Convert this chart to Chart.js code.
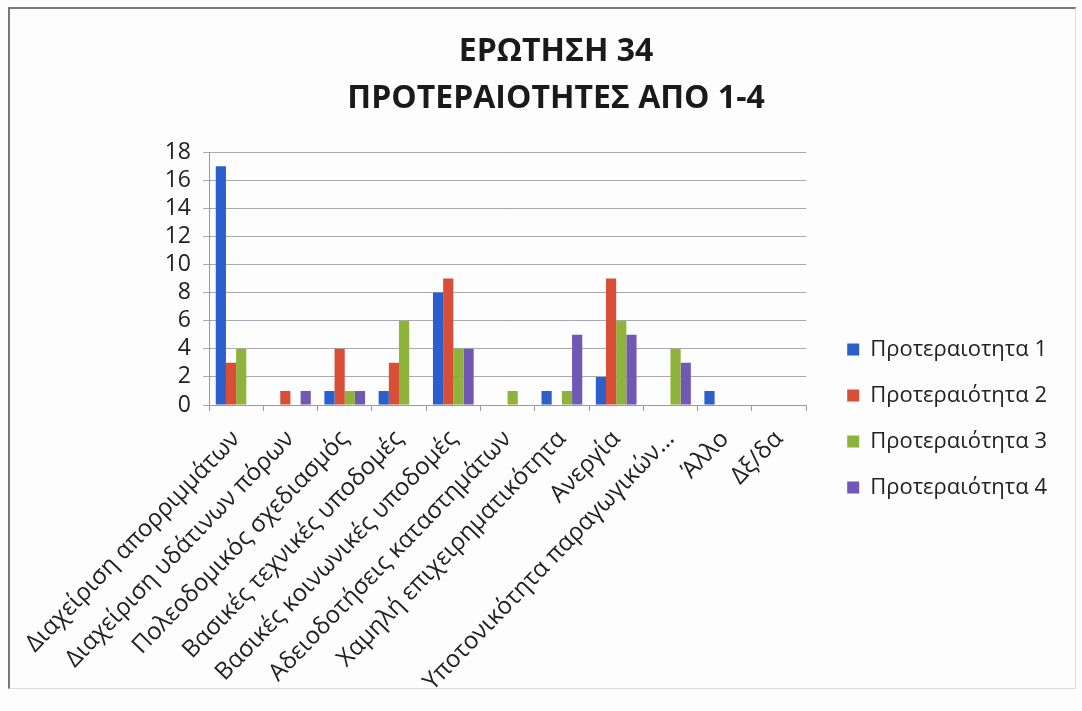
<!DOCTYPE html>
<html>
<head>
<meta charset="utf-8">
<script src="https://cdn.jsdelivr.net/npm/chart.js@4"></script>
<style>
    body { margin: 0; background: #fff; }
    #wrap { position: relative; width: 1082px; height: 711px; background: #fdfdfd; }
    #frame {
        position: absolute; left: 8px; top: 7px; right: 6px; bottom: 22px;
        border-left: 2px solid #777; border-top: 2px solid #777;
        border-right: 1px solid #ddd; border-bottom: 1px solid #ddd;
        pointer-events: none;
    }
    canvas { position: absolute; left: 0; top: 0; }
</style>
</head>
<body>
<div id="wrap">
    <canvas id="priorityChart" width="1082" height="711"></canvas>
    <div id="frame"></div>
</div>
<script>
// ============================================
// DATA
// ============================================

const categories = [
    'Διαχείριση απορριμμάτων',
    'Διαχείριση υδάτινων πόρων',
    'Πολεοδομικός σχεδιασμός',
    'Βασικές τεχνικές υποδομές',
    'Βασικές κοινωνικές υποδομές',
    'Αδειοδοτήσεις καταστημάτων',
    'Χαμηλή επιχειρηματικότητα',
    'Ανεργία',
    'Υποτονικότητα παραγωγικών...',
    'Άλλο',
    'Δξ/δα'
];

const seriesNames = ['Προτεραιοτητα 1', 'Προτεραιότητα 2', 'Προτεραιότητα 3', 'Προτεραιότητα 4'];

const priority1 = [17, 0, 1, 1, 8, 0, 1, 2, 0, 1, 0];
const priority2 = [3, 1, 4, 3, 9, 0, 0, 9, 0, 0, 0];
const priority3 = [4, 0, 1, 6, 4, 1, 1, 6, 4, 0, 0];
const priority4 = [0, 1, 1, 0, 4, 0, 5, 5, 3, 0, 0];

const titleLines = ['ΕΡΩΤΗΣΗ 34', 'ΠΡΟΤΕΡΑΙΟΤΗΤΕΣ ΑΠΟ 1-4'];

const seriesColors = ['#2b5fcb', '#d84e36', '#8db33b', '#7058b4'];

// ============================================
// CHART
// ============================================

const fontFamily = '"Open Sans", "Noto Sans", sans-serif';
const allSeries = [priority1, priority2, priority3, priority4];

// nudge the legend away from the plot and down next to the lower bars
const legendGap = {
    id: 'legendGap',
    afterLayout(chart) {
        const legend = chart.legend;
        if (!legend) return;
        legend.left += 17;
        legend.right += 17;
        legend.top += 54;
        legend.bottom += 54;
    }
};

const ctx = document.getElementById('priorityChart').getContext('2d');
new Chart(ctx, {
    type: 'bar',
    data: {
        labels: categories,
        datasets: allSeries.map((values, i) => ({
            label: seriesNames[i],
            data: values,
            backgroundColor: seriesColors[i],
            borderWidth: 0,
            categoryPercentage: 0.75,
            barPercentage: 1
        }))
    },
    plugins: [legendGap],
    options: {
        responsive: false,
        animation: false,
        layout: {
            padding: { left: 72, top: 18, right: 42, bottom: 0 }
        },
        plugins: {
            title: {
                display: true,
                text: titleLines,
                color: '#1a1a1a',
                font: { family: fontFamily, size: 32, weight: 'bold', lineHeight: 1.47 },
                padding: { top: 10, bottom: 30 }
            },
            legend: {
                position: 'right',
                labels: {
                    color: '#222',
                    boxWidth: 12,
                    boxHeight: 12,
                    padding: 24,
                    font: { family: fontFamily, size: 22 }
                }
            },
            tooltip: { enabled: false }
        },
        scales: {
            y: {
                min: 0,
                max: 18,
                afterFit: (scale) => { scale.width = 137; },
                ticks: {
                    stepSize: 2,
                    autoSkip: false,
                    color: '#222',
                    padding: 12,
                    font: { family: fontFamily, size: 23 }
                },
                grid: { color: '#a8a8b8', tickLength: 6 },
                border: { color: '#999' }
            },
            x: {
                afterFit: (scale) => {
                    // keep long rotated labels from pushing the plot around
                    scale.height = 306;
                    scale.paddingLeft = 0;
                    scale.paddingRight = 0;
                },
                ticks: {
                    autoSkip: false,
                    minRotation: 46,
                    maxRotation: 46,
                    padding: 14,
                    color: '#222',
                    font: { family: fontFamily, size: 24 }
                },
                grid: { drawOnChartArea: false, color: '#999', tickLength: 6 },
                border: { color: '#999' }
            }
        }
    }
});
</script>
</body>
</html>
